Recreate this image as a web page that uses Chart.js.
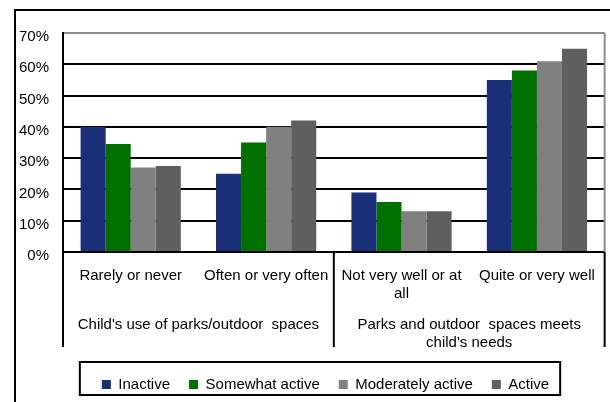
<!DOCTYPE html>
<html><head><meta charset="utf-8">
<script src="https://cdn.jsdelivr.net/npm/chart.js@4"></script>
<style>html,body{margin:0;padding:0;background:#fff}canvas{display:block}</style>
</head><body>
<canvas id="c" width="610" height="402"></canvas>
<script>
const categories = ['Rarely or never', 'Often or very often', ['Not very well or at', 'all'], 'Quite or very well'];
const groups = ["Child's use of parks/outdoor  spaces", ['Parks and outdoor  spaces meets', "child's needs"]];
const seriesNames = ['Inactive', 'Somewhat active', 'Moderately active', 'Active'];
const inactive = [40, 25, 19, 55];
const somewhatActive = [34.5, 35, 16, 58];
const moderatelyActive = [27, 40, 13, 61];
const active = [27.5, 42, 13, 65];
const yMin = 0, yMax = 70, yStep = 10;
const colors = ['#1B2F78', '#007000', '#808080', '#5F5F5F'];

Chart.defaults.font.family = '"Liberation Sans", Arial, sans-serif';
Chart.defaults.font.size = 15;
Chart.defaults.color = '#000';

const seriesValues = [inactive, somewhatActive, moderatelyActive, active];

const framePlugin = {
  id: 'frame',
  afterLayout(chart) {
    const lg = chart.legend;
    lg.left += 21; lg.right += 21;
  },
  afterDraw(chart) {
    const ctx = chart.ctx, a = chart.chartArea, x = chart.scales.x, x2 = chart.scales.x2;
    ctx.save();
    ctx.lineWidth = 2;
    // outer frame
    ctx.strokeStyle = '#000';
    ctx.beginPath(); ctx.moveTo(15, 402); ctx.lineTo(15, 10); ctx.lineTo(610, 10); ctx.stroke();
    // right plot border (gray)
    ctx.strokeStyle = '#8c8c8c';
    ctx.beginPath(); ctx.moveTo(a.right, a.top); ctx.lineTo(a.right, a.bottom); ctx.stroke();
    // group separators
    const sepBottom = x2.top + 40;
    const mid = (x.getPixelForValue(1) + x.getPixelForValue(2)) / 2;
    ctx.strokeStyle = '#000';
    [a.left, mid, a.right].forEach(px => {
      ctx.beginPath(); ctx.moveTo(px, a.bottom); ctx.lineTo(px, sepBottom); ctx.stroke();
    });
    // legend box
    const lg = chart.legend, p = lg.options.labels.padding;
    const lw = lg.lineWidths[0];
    const x0 = (lg.left + p + lg.right - lw) / 2;
    ctx.strokeStyle = '#000';
    ctx.strokeRect(x0 - 22, lg.top + 4, (lw - p) + 33, 33);
    ctx.restore();
  }
};

new Chart(document.getElementById('c'), {
  type: 'bar',
  data: {
    labels: categories,
    datasets: seriesNames.map((n, i) => ({
      label: n,
      data: seriesValues[i],
      backgroundColor: colors[i],
      borderWidth: 0,
      categoryPercentage: 0.74,
      barPercentage: 1
    }))
  },
  options: {
    responsive: false,
    animation: false,
    devicePixelRatio: 1,
    layout: { padding: { top: 33, right: 1, bottom: 0, left: 0 } },
    plugins: {
      legend: {
        position: 'bottom',
        labels: { boxWidth: 9, boxHeight: 9, padding: 19, color: '#000', font: { size: 15 } }
      },
      tooltip: { enabled: false }
    },
    scales: {
      y: {
        min: yMin, max: yMax,
        afterFit(s) { s.width = 63; },
        ticks: { stepSize: yStep, padding: 14, labelOffset: 4, callback: v => v + '%', color: '#000' },
        grid: {
          drawTicks: false,
          lineWidth: 2,
          color: c => (c.tick && c.tick.value === yMax) ? '#8c8c8c' : '#000'
        },
        border: { display: true, color: '#000', width: 2 }
      },
      x: {
        weight: 0,
        afterFit(s) { s.height = 55; },
        grid: { display: false, drawTicks: false },
        border: { display: false },
        ticks: { padding: 15, maxRotation: 0, minRotation: 0, autoSkip: false, color: '#000' }
      },
      x2: {
        type: 'category',
        labels: groups,
        position: 'bottom',
        offset: true,
        weight: 1,
        afterFit(s) { s.height = 51; },
        grid: { display: false, drawTicks: false },
        border: { display: false },
        ticks: { padding: 9, maxRotation: 0, minRotation: 0, autoSkip: false, color: '#000' }
      }
    }
  },
  plugins: [framePlugin]
});
</script>
</body></html>
